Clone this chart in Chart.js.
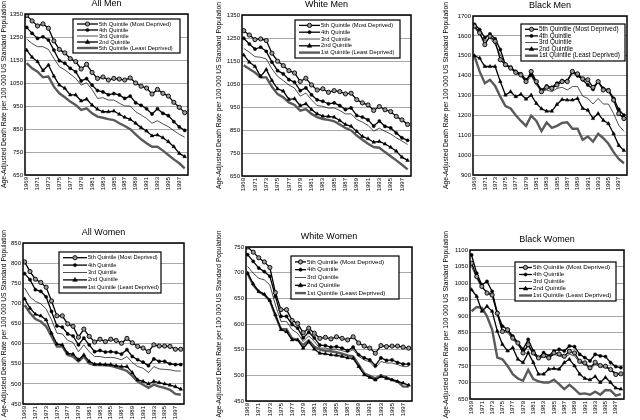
<!DOCTYPE html>
<html>
<head>
<meta charset="utf-8">
<script src="https://cdn.jsdelivr.net/npm/chart.js@4.4.0/dist/chart.umd.min.js"></script>
<style>
  body { margin: 0; background: #fff; width: 640px; height: 420px; position: relative; overflow: hidden; }
  canvas { position: absolute; }
</style>
</head>
<body>
<canvas id="c1" width="213" height="210" style="left:0;top:0"></canvas>
<canvas id="c2" width="213" height="210" style="left:213px;top:0"></canvas>
<canvas id="c3" width="214" height="210" style="left:426px;top:0"></canvas>
<canvas id="c4" width="213" height="210" style="left:0;top:210px"></canvas>
<canvas id="c5" width="213" height="210" style="left:213px;top:210px"></canvas>
<canvas id="c6" width="214" height="210" style="left:426px;top:210px"></canvas>
<script>
// years 1969-1998, one value per year
const years = [1969, 1970, 1971, 1972, 1973, 1974, 1975, 1976, 1977, 1978, 1979, 1980, 1981, 1982, 1983,
  1984, 1985, 1986, 1987, 1988, 1989, 1990, 1991, 1992, 1993, 1994, 1995, 1996, 1997, 1998];
const tickYears = [1969, 1971, 1973, 1975, 1977, 1979, 1981, 1983, 1985, 1987, 1989, 1991, 1993, 1995, 1997];

const quintileLabels = ['5th Quintile (Most Deprived)', '4th Quintile', '3rd Quintile', '2nd Quintile', '1st Quintile (Least Deprived)'];
// the All Men panel has its own legend text in the original
const allMenLabels = ['5th Quintile (Most Deprived)', '4th Quintile', '3rd Quintile', '2nd Quintile', '5th Quintile (Least Deprived)'];
const panelTitles = ['All Men', 'White Men', 'Black Men', 'All Women', 'White Women', 'Black Women'];
const yAxisTitle = 'Age-Adjusted Death Rate per 100 000 US Standard Population';

// All Men
const allMenQ5 = [1344, 1320, 1298, 1307, 1288, 1233, 1196, 1181, 1156, 1143, 1111, 1131, 1096, 1070, 1076, 1063, 1070, 1067, 1063, 1072, 1050, 1036, 1028, 1002, 1022, 1005, 993, 966, 944, 921];
const allMenQ4 = [1292, 1266, 1244, 1251, 1237, 1193, 1147, 1136, 1114, 1099, 1059, 1069, 1041, 1017, 1011, 999, 1004, 998, 983, 993, 964, 953, 938, 915, 938, 918, 908, 882, 859, 844];
const allMenQ3 = [1241, 1222, 1208, 1208, 1196, 1157, 1121, 1107, 1089, 1070, 1041, 1051, 1022, 983, 986, 976, 976, 962, 950, 950, 925, 911, 896, 875, 886, 872, 860, 843, 827, 814];
const allMenQ2 = [1193, 1162, 1143, 1104, 1128, 1080, 1041, 1027, 998, 998, 972, 980, 954, 936, 925, 925, 928, 914, 901, 892, 875, 856, 841, 820, 824, 812, 795, 773, 744, 730];
const allMenQ1 = [1136, 1114, 1099, 1075, 1078, 1034, 1005, 988, 969, 954, 933, 940, 918, 904, 899, 893, 889, 875, 863, 849, 827, 805, 788, 773, 773, 756, 737, 718, 701, 679];

// White Men
const whiteMenQ5 = [1282, 1263, 1243, 1246, 1239, 1184, 1149, 1130, 1108, 1098, 1061, 1075, 1046, 1024, 1029, 1014, 1021, 1017, 1007, 1010, 982, 968, 959, 935, 952, 938, 930, 909, 894, 874];
const whiteMenQ4 = [1249, 1224, 1202, 1210, 1192, 1145, 1108, 1094, 1069, 1058, 1021, 1033, 1003, 981, 975, 964, 968, 956, 939, 946, 913, 906, 894, 867, 889, 866, 859, 837, 816, 805];
const whiteMenQ3 = [1205, 1188, 1169, 1166, 1159, 1116, 1083, 1065, 1046, 1032, 997, 1011, 981, 956, 953, 945, 946, 935, 920, 920, 896, 884, 870, 845, 858, 844, 833, 816, 802, 787];
const whiteMenQ2 = [1176, 1145, 1126, 1083, 1113, 1065, 1029, 1019, 983, 986, 956, 964, 939, 920, 910, 909, 906, 891, 874, 866, 844, 822, 812, 797, 800, 789, 775, 758, 732, 718];
const whiteMenQ1 = [1132, 1115, 1100, 1079, 1079, 1038, 1006, 992, 970, 959, 934, 941, 920, 906, 898, 894, 888, 874, 859, 848, 826, 808, 790, 776, 773, 754, 736, 718, 699, 679];

// Black Men
const blackMenQ5 = [1649, 1615, 1556, 1598, 1573, 1480, 1455, 1438, 1416, 1404, 1370, 1421, 1370, 1319, 1341, 1336, 1353, 1370, 1370, 1421, 1409, 1384, 1379, 1341, 1370, 1328, 1324, 1277, 1209, 1184];
const blackMenQ4 = [1658, 1632, 1590, 1610, 1585, 1531, 1455, 1443, 1421, 1409, 1379, 1404, 1365, 1328, 1348, 1341, 1362, 1375, 1375, 1416, 1399, 1379, 1353, 1331, 1370, 1336, 1328, 1286, 1230, 1201];
const blackMenQ3 = [1641, 1607, 1573, 1590, 1556, 1505, 1455, 1438, 1412, 1399, 1365, 1399, 1353, 1319, 1328, 1319, 1336, 1341, 1328, 1345, 1345, 1297, 1285, 1257, 1285, 1257, 1257, 1209, 1150, 1120];
const blackMenQ2 = [1500, 1488, 1446, 1446, 1446, 1370, 1302, 1319, 1294, 1306, 1282, 1302, 1260, 1233, 1221, 1221, 1255, 1280, 1277, 1277, 1285, 1235, 1226, 1184, 1209, 1175, 1158, 1108, 1049, 1023];
const blackMenQ1 = [1497, 1420, 1362, 1379, 1348, 1294, 1247, 1235, 1201, 1172, 1147, 1198, 1172, 1121, 1164, 1137, 1147, 1162, 1165, 1133, 1133, 1077, 1094, 1068, 1107, 1085, 1057, 1015, 981, 959];

// All Women
const allWomenQ5 = [803, 779, 760, 752, 740, 706, 669, 669, 649, 643, 616, 636, 618, 604, 611, 605, 611, 608, 601, 613, 602, 593, 589, 580, 597, 594, 594, 593, 586, 586];
const allWomenQ4 = [774, 759, 734, 730, 716, 680, 644, 641, 624, 619, 597, 614, 597, 580, 583, 579, 580, 578, 574, 585, 568, 560, 554, 545, 562, 556, 556, 550, 548, 548];
const allWomenQ3 = [738, 716, 705, 699, 686, 659, 626, 624, 608, 603, 580, 597, 580, 568, 568, 565, 566, 564, 560, 568, 553, 543, 539, 528, 543, 537, 536, 535, 532, 532];
const allWomenQ2 = [711, 688, 673, 669, 659, 626, 599, 597, 576, 574, 560, 572, 556, 549, 549, 548, 548, 545, 543, 543, 528, 510, 506, 500, 506, 503, 500, 497, 493, 487];
const allWomenQ1 = [696, 676, 661, 655, 643, 618, 593, 593, 572, 568, 556, 568, 551, 547, 547, 546, 545, 541, 537, 532, 520, 506, 498, 490, 498, 493, 490, 485, 475, 473];

// White Women
const whiteWomenQ5 = [750, 740, 729, 721, 710, 661, 628, 628, 607, 601, 583, 592, 582, 572, 574, 571, 575, 572, 569, 575, 563, 557, 553, 543, 558, 556, 557, 557, 555, 553];
const whiteWomenQ4 = [735, 722, 709, 702, 693, 654, 615, 615, 599, 592, 573, 584, 573, 559, 558, 555, 556, 553, 548, 555, 540, 534, 530, 519, 534, 529, 530, 525, 522, 522];
const whiteWomenQ3 = [712, 699, 689, 686, 676, 637, 605, 605, 589, 582, 566, 577, 566, 553, 553, 551, 551, 548, 545, 550, 537, 530, 526, 514, 527, 524, 524, 521, 517, 517];
const whiteWomenQ2 = [699, 678, 663, 658, 646, 618, 589, 585, 569, 569, 553, 565, 551, 543, 542, 540, 539, 537, 534, 533, 517, 501, 496, 491, 498, 494, 491, 488, 485, 481];
const whiteWomenQ1 = [698, 676, 663, 657, 645, 616, 590, 590, 572, 569, 559, 568, 556, 550, 548, 547, 545, 542, 539, 537, 521, 504, 499, 494, 500, 496, 491, 488, 478, 478];

// Black Women
const blackWomenQ5 = [1060, 1020, 990, 970, 964, 909, 854, 859, 834, 819, 789, 814, 789, 774, 781, 774, 789, 786, 779, 794, 789, 764, 759, 744, 761, 751, 749, 739, 724, 726];
const blackWomenQ4 = [1085, 1030, 995, 1005, 975, 910, 870, 860, 840, 820, 800, 830, 795, 775, 790, 780, 795, 800, 795, 810, 808, 785, 775, 765, 785, 780, 778, 760, 748, 745];
const blackWomenQ3 = [1050, 1015, 985, 975, 965, 905, 855, 850, 830, 815, 790, 810, 785, 770, 780, 772, 785, 780, 775, 785, 780, 760, 755, 740, 755, 748, 745, 738, 730, 725];
const blackWomenQ2 = [980, 960, 915, 930, 915, 855, 815, 795, 805, 770, 760, 790, 760, 725, 725, 740, 742, 740, 760, 770, 750, 725, 712, 708, 718, 700, 715, 700, 683, 680];
const blackWomenQ1 = [915, 928, 925, 900, 860, 775, 770, 750, 725, 712, 705, 738, 710, 703, 700, 700, 708, 695, 680, 693, 680, 665, 667, 663, 672, 663, 677, 676, 660, 665];

const FONT = '"Liberation Sans", Arial, sans-serif';
Chart.defaults.font.family = FONT;
Chart.defaults.color = '#000';

// line / marker look of the five quintiles, in legend order
const styles = [
  { borderColor: '#000', borderWidth: 1.3, pointStyle: 'circle', pointRadius: 2.1, pointBackgroundColor: '#9a9a9a', pointBorderColor: '#000', pointBorderWidth: 0.9 },
  { borderColor: '#000', borderWidth: 1.3, pointStyle: 'circle', pointRadius: 1.6, pointBackgroundColor: '#000', pointBorderColor: '#000', pointBorderWidth: 0.5 },
  { borderColor: '#000', borderWidth: 0.7, pointStyle: 'circle', pointRadius: 0 },
  { borderColor: '#000', borderWidth: 1.3, pointStyle: 'triangle', pointRadius: 2.1, pointBackgroundColor: '#000', pointBorderColor: '#000', pointBorderWidth: 0.5 },
  { borderColor: '#5a5a5a', borderWidth: 2.4, pointStyle: 'circle', pointRadius: 0 }
];

const panels = [
  { id: 'c1', title: panelTitles[0], labels: allMenLabels, series: [allMenQ5, allMenQ4, allMenQ3, allMenQ2, allMenQ1],
    yMin: 650, yMax: 1350, yStep: 100,
    box: { yW: 25, top: 14, right: 25, xH: 35, yTitlePad: 0 },
    legend: { right: 8, top: 5, w: 107, h: 34, font: 5.8, textX: 26 } },
  { id: 'c2', title: panelTitles[1], labels: quintileLabels, series: [whiteMenQ5, whiteMenQ4, whiteMenQ3, whiteMenQ2, whiteMenQ1],
    yMin: 650, yMax: 1350, yStep: 100,
    box: { yW: 29, top: 15, right: 15, xH: 34, yTitlePad: 2.5 },
    legend: { right: 11, top: 5, w: 105, h: 38, font: 5.8, textX: 26 } },
  { id: 'c3', title: panelTitles[2], labels: quintileLabels, series: [blackMenQ5, blackMenQ4, blackMenQ3, blackMenQ2, blackMenQ1],
    yMin: 900, yMax: 1700, yStep: 100,
    box: { yW: 47, top: 16, right: 13, xH: 35, yTitlePad: 16.5 },
    legend: { right: 2, top: 8, w: 104, h: 37, font: 6.4, textX: 18 } },
  { id: 'c4', title: panelTitles[3], labels: quintileLabels, series: [allWomenQ5, allWomenQ4, allWomenQ3, allWomenQ2, allWomenQ1],
    yMin: 450, yMax: 850, yStep: 50,
    box: { yW: 23, top: 33, right: 29, xH: 16, yTitlePad: 0 },
    legend: { right: 23, top: 9, w: 102, h: 41, font: 5.6, textX: 29 } },
  { id: 'c5', title: panelTitles[4], labels: quintileLabels, series: [whiteWomenQ5, whiteWomenQ4, whiteWomenQ3, whiteWomenQ2, whiteWomenQ1],
    yMin: 450, yMax: 750, yStep: 50,
    box: { yW: 33, top: 37, right: 14, xH: 19, yTitlePad: 2 },
    legend: { right: 13, top: 9, w: 108, h: 43, font: 6.2, textX: 16 } },
  { id: 'c6', title: panelTitles[5], labels: quintileLabels, series: [blackWomenQ5, blackWomenQ4, blackWomenQ3, blackWomenQ2, blackWomenQ1],
    yMin: 650, yMax: 1100, yStep: 50,
    box: { yW: 44, top: 40, right: 16, xH: 21, yTitlePad: 16 },
    legend: { right: 8, top: 12, w: 101, h: 39, font: 6.2, textX: 18 } }
];

function drawMarker(ctx, st, x, y) {
  if (!st.pointRadius) return;
  const r = st.pointRadius;
  ctx.beginPath();
  if (st.pointStyle === 'triangle') {
    ctx.moveTo(x, y - r * 1.2);
    ctx.lineTo(x + r * 1.1, y + r * 0.7);
    ctx.lineTo(x - r * 1.1, y + r * 0.7);
    ctx.closePath();
  } else {
    ctx.arc(x, y, r, 0, Math.PI * 2);
  }
  ctx.fillStyle = st.pointBackgroundColor;
  ctx.fill();
  ctx.lineWidth = st.pointBorderWidth;
  ctx.strokeStyle = st.pointBorderColor;
  ctx.stroke();
}

// boxed legend sits under the lines, frame and title go on top
function makeDecor(p) {
  return {
    id: 'decor' + p.id,
    beforeDatasetsDraw(chart) {
      const ctx = chart.ctx;
      const a = chart.chartArea;
      const lg = p.legend;
      const x = a.right - lg.right - lg.w;
      const y = a.top + lg.top;
      ctx.save();
      ctx.fillStyle = '#fff';
      ctx.fillRect(x, y, lg.w, lg.h);
      ctx.strokeStyle = '#000';
      ctx.lineWidth = 1.2;
      ctx.strokeRect(x, y, lg.w, lg.h);
      const rowH = (lg.h - 4) / 5;
      p.labels.forEach((label, i) => {
        const st = styles[i];
        const cy = y + 2 + rowH * (i + 0.5);
        const x0 = x + 4, x1 = x + lg.textX - 1;
        ctx.strokeStyle = st.borderColor;
        ctx.lineWidth = st.borderWidth;
        ctx.beginPath();
        ctx.moveTo(x0, cy);
        ctx.lineTo(x1, cy);
        ctx.stroke();
        drawMarker(ctx, st, (x0 + x1) / 2, cy);
        ctx.fillStyle = '#000';
        ctx.font = lg.font + 'px ' + FONT;
        ctx.textAlign = 'left';
        ctx.textBaseline = 'middle';
        ctx.fillText(label, x + lg.textX, cy);
      });
      ctx.restore();
    },
    afterDraw(chart) {
      const ctx = chart.ctx;
      const a = chart.chartArea;
      ctx.save();
      ctx.strokeStyle = '#000';
      ctx.lineWidth = 1.5;
      ctx.strokeRect(a.left, a.top, a.right - a.left, a.bottom - a.top);
      ctx.fillStyle = '#000';
      ctx.font = '9px ' + FONT;
      ctx.textAlign = 'center';
      ctx.textBaseline = 'middle';
      ctx.fillText(p.title, (a.left + a.right) / 2, a.top - 10);
      ctx.restore();
    }
  };
}

panels.forEach(p => {
  const datasets = p.series.map((values, i) => Object.assign({
    label: p.labels[i],
    data: values.map((v, k) => ({ x: years[k], y: v })),
    tension: 0,
    fill: false
  }, styles[i]));

  new Chart(document.getElementById(p.id), {
    type: 'line',
    data: { datasets },
    options: {
      responsive: false,
      animation: false,
      layout: { padding: { left: 0, top: p.box.top, right: p.box.right, bottom: 0 } },
      plugins: { legend: { display: false }, tooltip: { enabled: false } },
      scales: {
        x: {
          type: 'linear',
          min: 1968.7,
          max: 1998.6,
          afterBuildTicks: s => { s.ticks = tickYears.map(v => ({ value: v })); },
          afterFit: s => { s.height = p.box.xH; },
          grid: { display: false, drawTicks: false },
          border: { display: false },
          ticks: { autoSkip: false, minRotation: 90, maxRotation: 90, padding: 2, font: { size: 6 }, callback: v => String(v) }
        },
        y: {
          min: p.yMin,
          max: p.yMax,
          afterFit: s => { s.width = p.box.yW; },
          grid: { color: '#a8a8a8', lineWidth: 1, drawTicks: false },
          border: { display: false },
          ticks: { stepSize: p.yStep, padding: 2, font: { size: 6 }, callback: v => String(v) },
          title: { display: true, text: yAxisTitle, font: { size: 6.7 }, padding: { top: p.box.yTitlePad, bottom: 0 } }
        }
      }
    },
    plugins: [makeDecor(p)]
  });
});
</script>
</body>
</html>
